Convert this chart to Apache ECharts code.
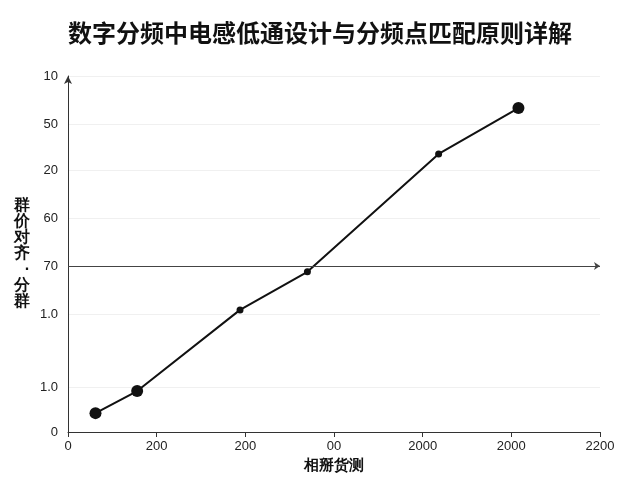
<!DOCTYPE html><html><head><meta charset="utf-8"><script src="https://cdn.jsdelivr.net/npm/echarts@6/dist/echarts.min.js"></script></head><body style="margin:0"><div id="c" style="width:640px;height:480px"></div><script>
const xTickLabels=["0","200","200","00","2000","2000","2200"];
const yTickValues=[0,12.6,33.1,46.6,60.1,73.6,86.5,100];
const yTickLabels=["0","1.0","1.0","70","60","20","50","10"];
const xValues=[0.31,0.78,1.94,2.70,4.18,5.08];
const yValues=[5.3,11.5,34.3,45.0,78.1,91.0];
const sizes=[12,12,7,7,7,12];
const ch=echarts.init(document.getElementById('c'));
ch.setOption({
 animation:false,
 title:{text:'数字分频中电感低通设计与分频点匹配原则详解',left:'center',top:16,textStyle:{fontSize:24,fontWeight:'bold',color:'#111',fontFamily:'Noto Sans CJK SC'}},
 grid:{left:68,right:40,top:76,bottom:48},
 xAxis:{type:'value',min:0,max:6,interval:1,name:'相掰货测',nameLocation:'middle',nameGap:20,nameTextStyle:{fontSize:15,fontWeight:'bold',color:'#111'},
  axisLine:{lineStyle:{color:'#333'}},axisTick:{show:true,lineStyle:{color:'#333'}},splitLine:{show:false},
  axisLabel:{formatter:v=>xTickLabels[v],color:'#222',fontSize:13}},
 yAxis:{type:'value',min:0,max:100,name:'群\n价\n对\n齐\n·\n分\n群',nameLocation:'middle',nameRotate:0,nameGap:38,nameTextStyle:{fontSize:16,fontWeight:'bold',color:'#111',lineHeight:16},
  axisLine:{show:true,symbol:['none','arrow'],symbolSize:[6,8],lineStyle:{color:'#333'}},axisTick:{show:false,customValues:yTickValues},
  splitLine:{show:true,lineStyle:{color:'#f0f0f0'}},
  axisLabel:{customValues:yTickValues,formatter:v=>{const i=yTickValues.indexOf(v);return i>=0?yTickLabels[i]:''},color:'#222',fontSize:13,margin:10}},
 series:[{type:'line',data:xValues.map((x,i)=>[x,yValues[i]]),symbol:'circle',symbolSize:(v,p)=>sizes[p.dataIndex],
  lineStyle:{color:'#111',width:2},itemStyle:{color:'#111'},
  markLine:{silent:true,symbol:['none','arrow'],symbolSize:6,label:{show:false},lineStyle:{color:'#444',type:'solid',width:1.2},data:[[{coord:[0,46.6]},{coord:[6,46.6]}]]}}]
});
</script></body></html>
